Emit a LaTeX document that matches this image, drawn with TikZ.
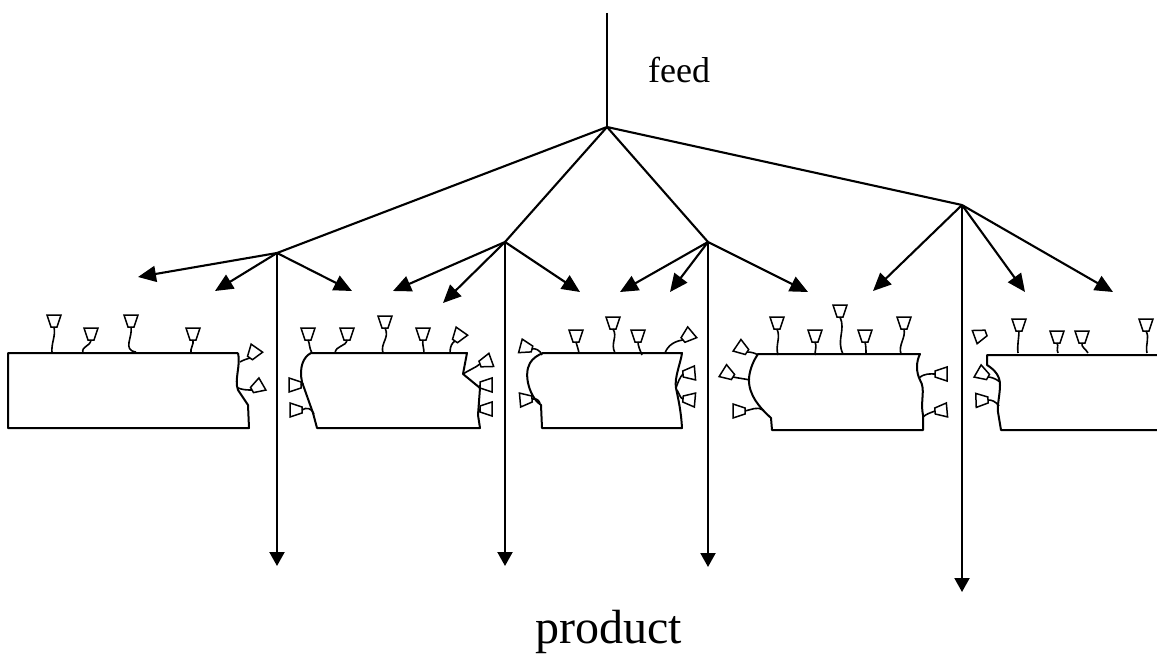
\documentclass[tikz,border=0pt]{standalone}
\usepackage{fontspec}
\setmainfont{Liberation Serif}
\usetikzlibrary{arrows.meta}
% tethered cup: surface point, two controls, cup base, cup direction
\newcommand{\tethcup}[5]{\draw[teth] #1 .. controls #2 and #3 .. #4; \pic[rotate=#5] at #4 {cup};}
\begin{document}
\begin{tikzpicture}[x=1pt,y=-1pt,
  conn/.style={line width=2.1pt},
  branch/.style={conn,-{Triangle[length=18pt,width=16pt]}},
  outflow/.style={conn,-{Triangle[length=14pt,width=15pt]}},
  blk/.style={line width=2pt,line join=round},
  teth/.style={line width=1.6pt},
  cup/.pic={\draw[line width=1.5pt,line join=miter] (-3,0)--(3,0)--(7,-12)--(-7,-12)--cycle;}
]
\useasboundingbox (0,0) rectangle (1157,655);

% ---------- labels ----------
\node[anchor=base west,inner sep=0pt,font=\fontsize{36}{40}\selectfont] (feed) at (648,83) {feed};
\node[anchor=base west,inner sep=0pt,font=\fontsize{48}{54}\selectfont] (product) at (535,643) {product};

% ---------- distribution tree ----------
\coordinate (ftop) at (607,13);
\coordinate (H0) at (607,127);
\coordinate (HL) at (277,253);
\coordinate (HM1) at (505,242);
\coordinate (HM2) at (708,242);
\coordinate (HR) at (962,205);

\coordinate (tL1) at (138,277);
\coordinate (tL2) at (215,291);
\coordinate (tL3) at (352,291);
\coordinate (tA1) at (393,291);
\coordinate (tA2) at (443,303);
\coordinate (tA3) at (580,292);
\coordinate (tB1) at (620,292);
\coordinate (tB2) at (670,292);
\coordinate (tB3) at (808,292);
\coordinate (tC1) at (873,291);
\coordinate (tC2) at (1025,292);
\coordinate (tC3) at (1113,292);

\coordinate (oL) at (277,566);
\coordinate (oA) at (505,566);
\coordinate (oB) at (708,567);
\coordinate (oC) at (962,592);

\draw[conn] (ftop) -- (H0);
\draw[conn] (H0) -- (HL);
\draw[conn] (H0) -- (HM1);
\draw[conn] (H0) -- (HM2);
\draw[conn] (H0) -- (HR);

\draw[branch] (HL) -- (tL1);
\draw[branch] (HL) -- (tL2);
\draw[branch] (HL) -- (tL3);
\draw[branch] (HM1) -- (tA1);
\draw[branch] (HM1) -- (tA2);
\draw[branch] (HM1) -- (tA3);
\draw[branch] (HM2) -- (tB1);
\draw[branch] (HM2) -- (tB2);
\draw[branch] (HM2) -- (tB3);
\draw[branch] (HR) -- (tC1);
\draw[branch] (HR) -- (tC2);
\draw[branch] (HR) -- (tC3);

\draw[outflow] (HL) -- (oL);
\draw[outflow] (HM1) -- (oA);
\draw[outflow] (HM2) -- (oB);
\draw[outflow] (HR) -- (oC);

% ---------- particle 1 ----------
\draw[blk] (238,353) -- (8,353) -- (8,428) -- (249,428) -- (248,405) -- (238,390)
  .. controls (234,380) and (241,365) .. (238,353);
\tethcup{(52,353)}{(51,343)}{(56,336)}{(54,327)}{0}
\tethcup{(83,353)}{(81,346)}{(90,347)}{(91,340)}{0}
\tethcup{(136,352)}{(122,350)}{(133,337)}{(131,327)}{0}
\tethcup{(191,353)}{(190,348)}{(194,345)}{(193,340)}{0}
\tethcup{(240,362)}{(243,360)}{(247,359)}{(250,358)}{-35}
\tethcup{(238,388)}{(243,390)}{(248,390)}{(252,390)}{-60}

% ---------- particle 2 ----------
\draw[blk] (311,353) -- (467,353) -- (463,374) -- (480,388) -- (478,415) -- (480,428)
  -- (317,428) -- (313,413) -- (302,382) .. controls (299,368) and (303,357) .. cycle;
\tethcup{(312,353)}{(309,348)}{(310,344)}{(308,340)}{0}
\tethcup{(335,353)}{(336,345)}{(346,347)}{(347,340)}{0}
\tethcup{(383,353)}{(380,343)}{(390,338)}{(385,328)}{0}
\tethcup{(424,353)}{(424,348)}{(422,344)}{(423,340)}{0}
\tethcup{(450,353)}{(450,346)}{(452,343)}{(455,341)}{-35}
\tethcup{(303,383)}{(302,384)}{(301,385)}{(301,385)}{90}
\tethcup{(314,414)}{(312,408)}{(306,407)}{(302,410)}{90}
\tethcup{(463,374)}{(469,370)}{(475,368)}{(480,364)}{-70}
\tethcup{(480,388)}{(480,387)}{(480,386)}{(480,385)}{-90}
\tethcup{(478,413)}{(479,411)}{(480,410)}{(480,409)}{-90}

% ---------- particle 3 ----------
\draw[blk] (543,353) -- (682,353) .. controls (681,362) and (674,378) .. (676,388)
  .. controls (678,398) and (681,410) .. (682,428) -- (542,428) -- (541,405)
  .. controls (530,398) and (523,375) .. (530,363) .. controls (533,358) and (538,355) .. cycle;
\tethcup{(579,353)}{(578,348)}{(577,346)}{(576,342)}{0}
\tethcup{(615,353)}{(610,343)}{(618,337)}{(613,329)}{0}
\tethcup{(642,355)}{(640,350)}{(638,346)}{(638,342)}{0}
\tethcup{(665,353)}{(668,345)}{(675,341)}{(683,340)}{-50}
\tethcup{(542,355)}{(540,350)}{(535,348)}{(532,349)}{75}
\tethcup{(540,403)}{(538,399)}{(535,398)}{(532,399)}{95}
\tethcup{(676,388)}{(678,382)}{(680,377)}{(683,374)}{-85}
\tethcup{(677,390)}{(680,395)}{(680,398)}{(683,399)}{-95}

% ---------- particle 4 ----------
\draw[blk] (758,354) -- (920,354) .. controls (916,362) and (916,372) .. (920,380)
  .. controls (926,390) and (920,400) .. (923,415) -- (923,430) -- (772,430) -- (771,418)
  .. controls (760,408) and (748,395) .. (749,378) .. controls (750,368) and (754,360) .. cycle;
\tethcup{(778,355)}{(775,345)}{(781,338)}{(777,329)}{0}
\tethcup{(815,355)}{(815,350)}{(817,346)}{(815,342)}{0}
\tethcup{(843,354)}{(836,340)}{(846,330)}{(840,317)}{0}
\tethcup{(866,354)}{(866,350)}{(866,346)}{(865,342)}{0}
\tethcup{(901,354)}{(898,345)}{(906,338)}{(904,329)}{0}
\tethcup{(758,355)}{(755,353)}{(751,352)}{(747,352)}{56}
\tethcup{(750,380)}{(745,379)}{(738,378)}{(733,377)}{58}
\tethcup{(763,410)}{(758,406)}{(750,410)}{(745,411)}{90}
\tethcup{(919,378)}{(925,373)}{(930,374)}{(935,374)}{-90}
\tethcup{(923,417)}{(926,414)}{(930,413)}{(935,411)}{-85}

% ---------- particle 5 ----------
\draw[blk] (1157,355) -- (987,355) -- (987,365) .. controls (995,370) and (1000,376) .. (1000,385)
  .. controls (1000,395) and (997,405) .. (998,412) -- (1001,430) -- (1157,430);
\pic[rotate=110] at (986,333) {cup};
\tethcup{(1018,353)}{(1017,345)}{(1019,338)}{(1019,331)}{0}
\tethcup{(1058,353)}{(1056,349)}{(1059,346)}{(1057,343)}{0}
\tethcup{(1088,353)}{(1085,348)}{(1081,347)}{(1082,343)}{0}
\tethcup{(1147,353)}{(1145,345)}{(1150,338)}{(1146,331)}{0}
\tethcup{(1000,382)}{(995,378)}{(990,377)}{(988,377)}{60}
\tethcup{(999,406)}{(995,401)}{(992,400)}{(988,400)}{92}
\end{tikzpicture}
\end{document}
